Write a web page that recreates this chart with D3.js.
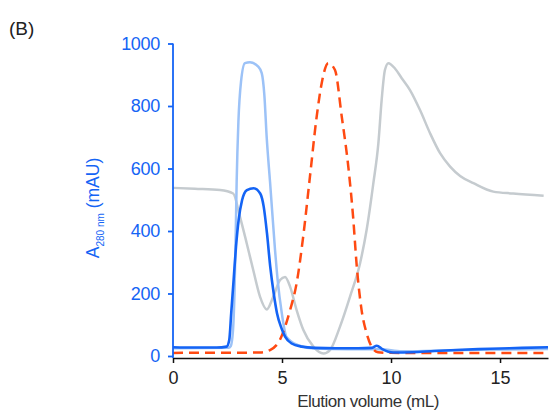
<!DOCTYPE html>
<html>
<head>
<meta charset="utf-8">
<script src="https://cdn.jsdelivr.net/npm/d3@7"></script>
<style>
  body { margin: 0; background: #fff; }
  text { font-family: "Liberation Sans", Arial, sans-serif; }
</style>
</head>
<body>
<div id="chart"></div>
<script>
// tick values
var xTicks = [0, 5, 10, 15];
var yTicks = [0, 200, 400, 600, 800, 1000];

// gray trace
var grayVol = [0, 1, 2.16, 2.76, 3.07, 3.38, 3.68, 3.99, 4.3, 4.6, 4.91, 5.14, 5.37, 5.67, 5.98, 6.44, 6.9, 7.2, 7.66, 8.12, 8.58, 8.88, 9.19, 9.42, 9.57, 9.72, 9.88, 10.18, 10.49, 10.87, 11.33, 11.79, 12.25, 12.71, 13.17, 13.78, 14.69, 15.6, 17];
var grayAbs = [538, 535, 531, 520, 446, 361, 275, 190, 149, 190, 243, 253, 222, 147, 83, 30, 8, 19, 94, 190, 297, 403, 553, 681, 819, 915, 937, 920, 889, 851, 787, 713, 649, 606, 576, 553, 526, 520, 513];

// light blue trace
var lightVol = [0, 2.55, 2.65, 2.75, 2.82, 2.88, 2.92, 3.0, 3.12, 3.3, 3.53, 3.91, 4.07, 4.19, 4.3, 4.45, 4.68, 4.8, 4.99, 5.2, 5.73, 6.5, 8, 9.5, 10.5, 12, 14, 17.2];
var lightAbs = [25, 26, 32, 80, 200, 400, 558, 750, 878, 937, 940, 926, 905, 835, 697, 558, 339, 243, 137, 62, 35, 24, 22, 22, 15, 17, 20, 22];

// red dashed trace
var redVol = [0, 4, 4.45, 4.9, 5.37, 5.67, 5.97, 6.28, 6.59, 6.82, 7.12, 7.43, 7.74, 8.04, 8.26, 8.43, 8.65, 8.88, 9.11, 9.4, 10, 17.2];
var redAbs = [10, 11, 19, 51, 147, 233, 381, 573, 766, 873, 937, 915, 766, 606, 446, 286, 147, 73, 30, 12, 10, 10];

// dark blue trace
var blueVol = [0, 1, 2, 2.46, 2.58, 2.67, 2.78, 2.89, 3.01, 3.17, 3.39, 3.7, 4.0, 4.16, 4.31, 4.46, 4.62, 4.77, 4.97, 5.14, 5.44, 5.9, 6.5, 7.5, 8.5, 9.1, 9.35, 9.6, 10.1, 11, 12, 13, 14, 15, 16, 17.2];
var blueAbs = [28, 27, 27, 30, 51, 137, 243, 350, 435, 499, 531, 537, 520, 478, 393, 286, 200, 137, 90, 62, 40, 30, 26, 25, 25, 26, 33, 22, 11, 12, 16, 19, 22, 24, 26, 28];

var width = 552;
var height = 412;

var svg = d3.select("#chart")
            .append("svg")
            .attr("width", width)
            .attr("height", height);

var xScale = d3.scaleLinear()
                .domain([0, 17.2])
                .range([173, 548]);

var yScale = d3.scaleLinear()
                .domain([0, 1000])
                .range([356, 43.5]);

var axisY = 358;
var blue = "#1464f5";

function zip(xs, ys) {
    return xs.map(function(v, i) { return [v, ys[i]]; });
}

var line = d3.line()
             .x(function(d) { return xScale(d[0]); })
             .y(function(d) { return yScale(d[1]); })
             .curve(d3.curveMonotoneX);

// traces, back to front
svg.append("path")
   .attr("d", line(zip(grayVol, grayAbs)))
   .attr("fill", "none")
   .attr("stroke", "#c5cbcf")
   .attr("stroke-width", 2.5);

svg.append("path")
   .attr("d", line(zip(lightVol, lightAbs)))
   .attr("fill", "none")
   .attr("stroke", "#9cc2f7")
   .attr("stroke-width", 2.5);

svg.append("path")
   .attr("d", line(zip(redVol, redAbs)))
   .attr("fill", "none")
   .attr("stroke", "#ff4a12")
   .attr("stroke-width", 2.5)
   .attr("stroke-dasharray", "10,6");

svg.append("path")
   .attr("d", line(zip(blueVol, blueAbs)))
   .attr("fill", "none")
   .attr("stroke", blue)
   .attr("stroke-width", 2.6);

// x axis
var xAxis = d3.axisBottom(xScale)
              .tickValues(xTicks)
              .tickFormat(d3.format("d"))
              .tickSize(5)
              .tickSizeOuter(0)
              .tickPadding(8);

var gx = svg.append("g")
    .attr("transform", "translate(0," + axisY + ")")
    .call(xAxis);
gx.select(".domain").attr("stroke", "#111").attr("stroke-width", 1.5);
gx.selectAll(".tick line").attr("stroke", "#111").attr("stroke-width", 1.5);
gx.selectAll(".tick text")
  .attr("font-size", 18)
  .attr("fill", "#222")
  .style("font-family", "'Liberation Sans', Arial, sans-serif");

// y axis
var yAxis = d3.axisLeft(yScale)
              .tickValues(yTicks)
              .tickFormat(d3.format("d"))
              .tickSize(5)
              .tickSizeOuter(0)
              .tickPadding(8);

var gy = svg.append("g")
    .attr("transform", "translate(173,0)")
    .call(yAxis);
gy.select(".domain").remove();
gy.append("line")
  .attr("x1", 0).attr("x2", 0)
  .attr("y1", yScale(1000)).attr("y2", axisY)
  .attr("stroke", blue).attr("stroke-width", 1.8);
gy.selectAll(".tick line").attr("stroke", blue).attr("stroke-width", 1.8);
gy.selectAll(".tick text")
  .attr("font-size", 18)
  .attr("fill", blue)
  .attr("letter-spacing", -0.3)
  .style("font-family", "'Liberation Sans', Arial, sans-serif");

// axis titles
svg.append("text")
   .attr("x", 368)
   .attr("y", 407)
   .attr("text-anchor", "middle")
   .attr("font-size", 17)
   .attr("fill", "#333")
   .attr("letter-spacing", -0.5)
   .text("Elution volume (mL)");

var yLab = svg.append("text")
   .attr("transform", "translate(99,208) rotate(-90)")
   .attr("text-anchor", "middle")
   .attr("font-size", 17.5)
   .attr("fill", blue);
yLab.append("tspan").text("A");
yLab.append("tspan").attr("font-size", 10).attr("dy", 5).text("280 nm");
yLab.append("tspan").attr("dy", -5).text(" (mAU)");

// panel letter
svg.append("text")
   .attr("x", 9)
   .attr("y", 35)
   .attr("font-size", 19)
   .attr("fill", "#222")
   .text("(B)");
</script>
</body>
</html>
